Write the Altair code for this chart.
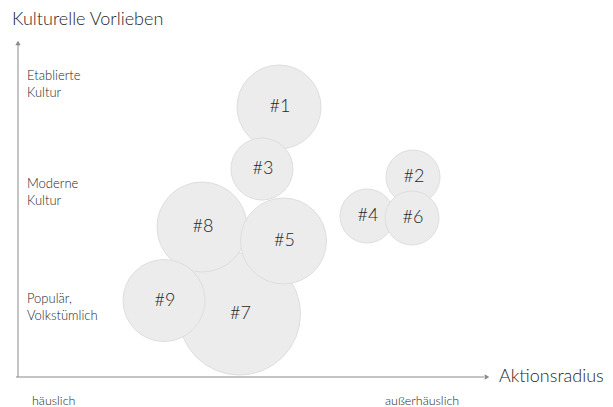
import altair as alt
import pandas as pd

# Bubble data (x: Aktionsradius, y: Kulturelle Vorlieben, r: bubble radius), axis origin = (0, 0)
labels = ["#7", "#1", "#3", "#8", "#9", "#5", "#4", "#2", "#6"]
xs = [221.5, 261, 244, 184, 146, 265.5, 349, 395, 394]
ys = [63, 270, 208, 150, 76.5, 136, 161, 200, 159]
radii = [61, 42, 31, 45, 41, 43, 27, 27, 27]

# Category labels along the y axis
cat_lines = ["Etablierte", "Kultur", "Moderne", "Kultur", "Populär,", "Volkstümlich"]
cat_y = [301, 284, 193, 176, 78, 61]

# x-axis end labels
end_labels = ["häuslich", "außerhäuslich"]
end_x = [14, 367]

FONT = "Lato"
TXT = "#262626"

bubbles = pd.DataFrame({"label": labels, "x": xs, "y": ys, "r": radii})


def ex(field="x:Q"):
    return alt.X(field, scale=alt.Scale(domain=[-10, 587]), axis=None)


def ey(field="y:Q"):
    return alt.Y(field, scale=alt.Scale(domain=[-30, 369]), axis=None)


# symbol size = area of bounding square = (2r)^2
circles = alt.Chart(bubbles).transform_calculate(
    area="4 * datum.r * datum.r"
).mark_circle(fill="#ececec", stroke="#dedede", strokeWidth=1, opacity=1).encode(
    x=ex(), y=ey(), size=alt.Size("area:Q", scale=None, legend=None),
)

bubble_text = alt.Chart(bubbles).mark_text(
    font=FONT, fontSize=18, fontWeight=300, color=TXT, dx=1
).encode(x=ex(), y=ey(), text="label:N")

axes_df = pd.DataFrame({"x": [0, -2], "x2": [0, 466], "y": [0, 0], "y2": [333, 0]})
axis_lines = alt.Chart(axes_df).mark_rule(color="#8a8a8a", strokeWidth=1).encode(
    x=ex(), x2="x2:Q", y=ey(), y2="y2:Q"
)

up_df = pd.DataFrame({"x": [0], "y": [334]})
right_df = pd.DataFrame({"x": [469], "y": [0]})
arrow_up = alt.Chart(up_df).mark_point(filled=True, color="#8a8a8a", opacity=1, size=28,
                                        shape="triangle-up").encode(x=ex(), y=ey())
arrow_right = alt.Chart(right_df).mark_point(filled=True, color="#8a8a8a", opacity=1, size=28,
                                              shape="triangle-right").encode(x=ex(), y=ey())

titles_df = pd.DataFrame({"t": ["Kulturelle Vorlieben", "Aktionsradius"], "x": [-6, 481], "y": [357, 0]})
titles = alt.Chart(titles_df).mark_text(
    font=FONT, fontSize=18, fontWeight=300, color=TXT, align="left", baseline="middle"
).encode(x=ex(), y=ey(), text="t:N")

cat_df = pd.DataFrame({"t": cat_lines, "y": cat_y, "x": [9] * len(cat_lines)})
cats = alt.Chart(cat_df).mark_text(
    font=FONT, fontSize=13, fontWeight=300, color=TXT, align="left", baseline="middle"
).encode(x=ex(), y=ey(), text="t:N")

end_df = pd.DataFrame({"t": end_labels, "x": end_x, "y": [-24, -24]})
ends = alt.Chart(end_df).mark_text(
    font=FONT, fontSize=12.5, fontWeight=300, color=TXT, align="left", baseline="middle"
).encode(x=ex(), y=ey(), text="t:N")

chart = alt.layer(axis_lines, arrow_up, arrow_right, circles, bubble_text, titles, cats, ends).properties(
    width=597, height=399, padding=0, background="white",
).configure_view(stroke=None)

chart.save("out.html", embed_options={"renderer": "svg", "actions": False})
